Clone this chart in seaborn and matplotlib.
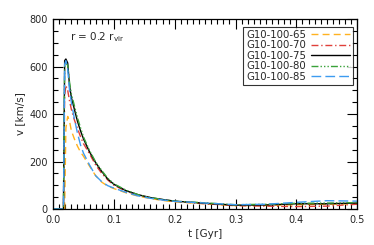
import matplotlib
matplotlib.use("Agg")
import matplotlib.pyplot as plt
import seaborn as sns
import pandas as pd

sns.set_theme(style="ticks")
plt.rcParams['font.family'] = ['DejaVu Sans']

t_gyr = [0.0, 0.016, 0.017, 0.019, 0.021, 0.024, 0.027, 0.030, 0.035, 0.040, 0.045, 0.050,
         0.060, 0.070, 0.080, 0.090, 0.100, 0.120, 0.140, 0.160, 0.180, 0.200, 0.250,
         0.300, 0.350, 0.400, 0.450, 0.500]

v_65 = [0, 0, 0, 0, 340, 390, 370, 330, 295, 265, 240, 222, 180, 140, 113, 96, 86, 68, 54,
        44, 36, 30, 22, 14, 15, 18, 20, 22]
v_70 = [0, 0, 0, 480, 520, 500, 455, 420, 375, 340, 305, 275, 232, 185, 150, 122, 100, 75,
        58, 47, 39, 32, 22, 14, 12, 10, 12, 20]
v_75 = [0, 0, 0, 625, 632, 615, 520, 470, 420, 370, 330, 295, 240, 195, 158, 126, 104, 77,
        60, 48, 40, 33, 24, 16, 17, 22, 22, 25]
v_80 = [0, 0, 0, 600, 615, 605, 535, 485, 435, 385, 343, 303, 246, 198, 162, 129, 106, 79,
        60, 48, 40, 33, 26, 18, 20, 24, 25, 27]
v_85 = [0, 0, 0, 610, 625, 590, 500, 450, 380, 320, 270, 235, 185, 140, 115, 98, 88, 70,
        55, 45, 38, 32, 25, 18, 20, 28, 35, 33]

labels = ["G10-100-65", "G10-100-70", "G10-100-75", "G10-100-80", "G10-100-85"]
series = [v_65, v_70, v_75, v_80, v_85]
colors = ["#FFB21F", "#E0403A", "#000000", "#3AA23A", "#3D9BF0"]
dashes = [(5, 3), (5, 2, 1, 2), "", (5, 1.5, 1, 1.5, 1, 1.5, 1, 1.5), (7, 3)]

rows = []
for lab, vals in zip(labels, series):
    for tt, vv in zip(t_gyr, vals):
        rows.append({"t": tt, "v": vv, "run": lab})
df = pd.DataFrame(rows)

fig = plt.figure(figsize=(3.74, 2.45), dpi=100)
ax = fig.add_axes([0.142, 0.147, 0.813, 0.775])

for lab, col, d in zip(labels, colors, dashes):
    sub = df[df["run"] == lab]
    sns.lineplot(data=sub, x="t", y="v", ax=ax, color=col, lw=1.0,
                 label=lab, estimator=None, sort=False)
    line = ax.lines[-1]
    if d:
        line.set_dashes(d)

ax.set_xlim(0, 0.5)
ax.set_ylim(0, 800)
ax.set_xticks([0, 0.1, 0.2, 0.3, 0.4, 0.5])
ax.set_xticklabels(["0.0", "0.1", "0.2", "0.3", "0.4", "0.5"])
ax.set_yticks([0, 200, 400, 600, 800])
ax.xaxis.set_minor_locator(matplotlib.ticker.MultipleLocator(0.01))
ax.yaxis.set_minor_locator(matplotlib.ticker.MultipleLocator(50))
ax.tick_params(which="both", direction="in", top=True, right=True, labelsize=7,
               color="black", width=0.8)
ax.tick_params(which="major", length=7, pad=4)
ax.tick_params(which="minor", length=3.5)
for s in ax.spines.values():
    s.set_color("black")
    s.set_linewidth(0.9)

ax.set_xlabel("t [Gyr]", fontsize=7.5, labelpad=3)
ax.set_ylabel("v [km/s]", fontsize=7.5, labelpad=3)

ax.text(0.056, 0.905, r"r = 0.2 r$_{\rm vir}$", transform=ax.transAxes, fontsize=7.5,
        ha="left", va="center")

leg = ax.legend(loc="upper right", bbox_to_anchor=(0.985, 0.96), fontsize=7.3,
                markerfirst=False, frameon=True, fancybox=False, handlelength=3.8,
                borderpad=0.3, labelspacing=0.05, handletextpad=0.5, borderaxespad=0)
leg.get_frame().set_edgecolor("black")
leg.get_frame().set_linewidth(0.8)

fig.savefig("out.png", dpi=100)
